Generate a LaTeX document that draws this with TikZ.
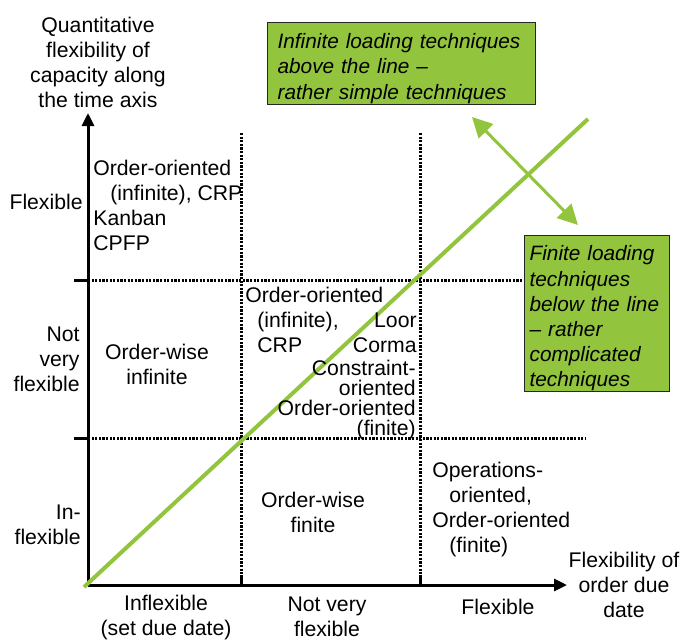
\documentclass[tikz,border=0pt]{standalone}
\usepackage{fontspec}
\setmainfont{Liberation Sans}
\usetikzlibrary{arrows.meta}
\definecolor{lime}{RGB}{146,196,62}
\tikzset{
  lbl/.style={inner sep=0pt, font=\fontsize{10.6}{12.5}\selectfont},
  grid/.style={line width=1.5pt, dash pattern=on 1.1pt off 0.7pt},
  axis/.style={line width=1.5pt, -{Triangle[length=6.5pt,width=6pt]}},
  tick/.style={line width=1.5pt},
  diag/.style={line width=2pt, lime},
  swap/.style={line width=1.5pt, lime, {Triangle[length=10pt,width=10pt]}-{Triangle[length=10pt,width=10pt]}},
  note/.style={draw=black!85, line width=0.6pt, fill=lime, inner xsep=5pt, inner ysep=0pt,
    align=left, anchor=north west, font=\fontsize{10.4}{12.6}\selectfont\itshape,
    execute at begin node={\rule{0pt}{12.5pt}}}
}
\begin{document}
\begin{tikzpicture}[x=0.5pt,y=-0.5pt]
  \useasboundingbox (0,0) rectangle (695,639);
  \draw
    (88,585) coordinate (o)
    (88,113) coordinate (ytip)
    (567,585) coordinate (xtip)
    (88,280) coordinate (h1a) (585,280) coordinate (h1b)
    (88,438) coordinate (h2a) (585,438) coordinate (h2b)
    (241,133) coordinate (v1a) (241,585) coordinate (v1b)
    (420,133) coordinate (v2a) (420,585) coordinate (v2b)
    (74,280) coordinate (t1) (74,438) coordinate (t2)
    (241,575) coordinate (t3) (420,575) coordinate (t4)
    (84,587) coordinate (d0) (588,119) coordinate (d1)
    (472,117) coordinate (up) (578,225) coordinate (dn);
  % grid of the four fields
  \begin{scope}[grid]
    \draw (h1a) to (h1b);
    \draw (h2a) to (h2b);
    \draw (v1a) to (v1b);
    \draw (v2a) to (v2b);
  \end{scope}
  \begin{scope}[tick]
    \draw (t1) to (h1a);
    \draw (t2) to (h2a);
    \draw (t3) to (v1b);
    \draw (t4) to (v2b);
  \end{scope}
  \draw[axis] (o) to (ytip);
  \draw[axis] (o) to (xtip);
  \draw[diag] (d0) to (d1);
  \draw[swap] (up) to (dn);
  % boxes
  \node[note, text width=124pt, minimum height=41pt] (inf) at (267,22)
    {Infinite loading techniques\\above the line --\\rather simple techniques};
  \node[note, inner xsep=2.5pt, text width=67.5pt, minimum height=78pt] (fin) at (524,235)
    {Finite loading\\techniques\\below the line\\-- rather\\complicated\\techniques};
  % axis labels
  \node[lbl, align=center] (ylab) at (98,62) {Quantitative\\flexibility of\\capacity along\\the time axis};
  \node[lbl, align=center] (xlab) at (624,585) {Flexibility of\\order due\\date};
  \node[lbl, anchor=east] (yflex) at (83,202) {Flexible};
  \node[lbl, anchor=east, align=right] (ynot) at (80,359) {Not\\very\\flexible};
  \node[lbl, anchor=east, align=right] (yin) at (81,525) {In-\\flexible};
  \node[lbl, align=center] (xin) at (166,617) {Inflexible\\(set due date)};
  \node[lbl, align=center] (xnot) at (327,617) {Not very\\flexible};
  \node[lbl] (xflex) at (498,607) {Flexible};
  % field texts
  \node[lbl, anchor=west, align=left] (f13) at (93,205.5)
    {Order-oriented\\\hspace*{8.5pt}(infinite), CRP\\Kanban\\CPFP};
  \node[lbl, align=center] (f12) at (157,364) {Order-wise\\infinite};
  \node[lbl, anchor=west, align=left] (f22) at (245,320)
    {Order-oriented\\\hspace*{6pt}(infinite),\\\hspace*{6pt}CRP};
  \node[lbl, anchor=east, align=right] (f22b) at (417,332.5) {Loor\\Corma};
  \node[lbl, anchor=east, align=right, font=\fontsize{10.6}{10}\selectfont] (f22c) at (416,400)
    {Constraint-\\oriented\\Order-oriented\\(finite)};
  \node[lbl, align=center] (f21) at (313,512) {Order-wise\\finite};
  \node[lbl, anchor=west, align=left] (f31) at (432,509)
    {Operations-\\\hspace*{8.5pt}oriented,\\Order-oriented\\\hspace*{8.5pt}(finite)};
\end{tikzpicture}
\end{document}
